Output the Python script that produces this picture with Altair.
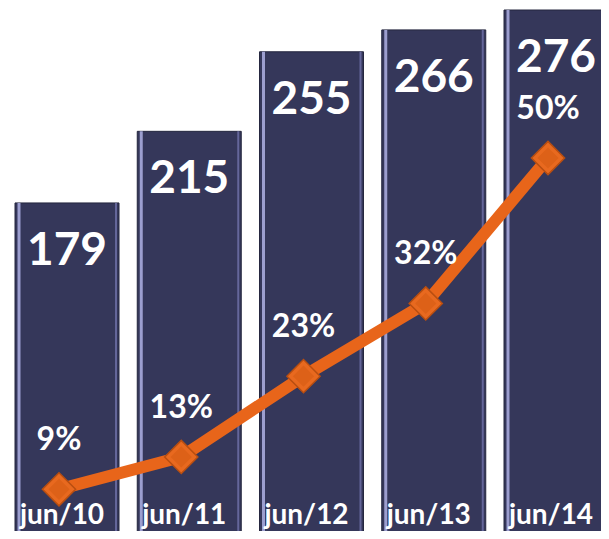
import altair as alt
import pandas as pd

categories = ["jun/10", "jun/11", "jun/12", "jun/13", "jun/14"]
totals = [179, 215, 255, 266, 276]
shares = [9, 13, 23, 32, 50]

df = pd.DataFrame({
    "idx": list(range(len(categories))),
    "cat": categories,
    "value": totals,
    "pct": shares,
    "pct_label": [f"{p}%" for p in shares],
})

FONT = "Lato"
xs = alt.Scale(domain=[0, 4], range=[54, 553])
ys = alt.Scale(domain=[0, 276], range=[551, 2])
ps = alt.Scale(domain=[0, 50], range=[554, 150])

base = alt.Chart(df)
X = alt.X("idx:Q", scale=xs, axis=None)
Yv = alt.Y("value:Q", scale=ys, axis=None)
Yp = alt.Y("pct:Q", scale=ps, axis=None)

bars = base.mark_bar(width=104, color="#35375A", stroke="#25273F", strokeWidth=1).encode(x=X, y=Yv)
hl_left = base.mark_bar(width=3, xOffset=-48, color="#9C9ECF").encode(x=X, y=Yv)
hl_right = base.mark_bar(width=2, xOffset=49, color="#64669A").encode(x=X, y=Yv)

val_text = base.mark_text(font=FONT, fontWeight="bold", fontSize=46, color="white",
                          baseline="alphabetic", dy=62).encode(x=X, y=Yv, text="value:Q")
cat_text = base.mark_text(font=FONT, fontWeight="bold", fontSize=28, color="white",
                          baseline="alphabetic", xOffset=-5).encode(
    x=X, y=alt.value(516), text="cat:N")

line = base.mark_line(xOffset=-8, strokeWidth=12, color="#E8651A").encode(x=X, y=Yp)
diam = base.mark_point(shape="diamond", filled=True, size=1100, xOffset=-8,
                       fill="#E8691F", stroke="#B94E10", strokeWidth=1.5, opacity=1).encode(x=X, y=Yp)
diam_in = base.mark_point(shape="diamond", filled=True, size=450, xOffset=-8,
                          fill="#DD6118", opacity=1).encode(x=X, y=Yp)
pct_text = base.mark_text(font=FONT, fontWeight="bold", fontSize=32, color="white",
                          baseline="alphabetic", dy=-39, xOffset=-8).encode(x=X, y=Yp, text="pct_label:N")

chart = alt.layer(
    bars, hl_left, hl_right, val_text, cat_text, line, diam, diam_in, pct_text
).resolve_scale(y="independent").properties(
    width=593, height=523, padding=0,
    autosize=alt.AutoSizeParams(type="none"),
).configure_view(stroke=None)

chart.save("out.html", embed_options={"renderer": "svg", "actions": False})
